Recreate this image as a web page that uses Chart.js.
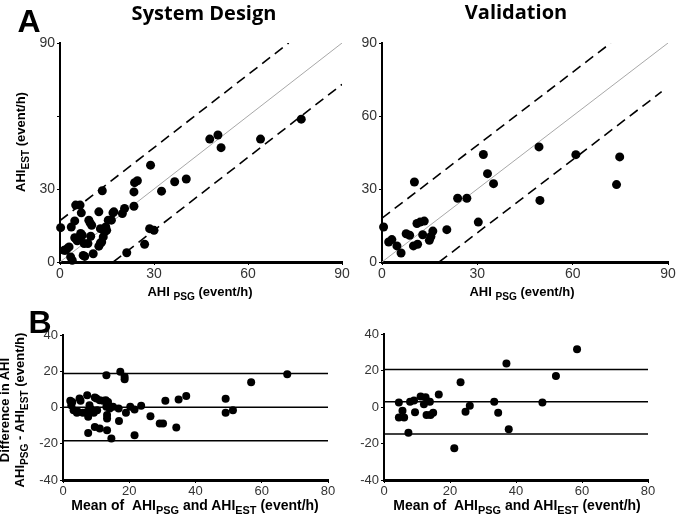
<!DOCTYPE html>
<html>
<head>
<meta charset="utf-8">
<script src="https://cdn.jsdelivr.net/npm/chart.js@4"></script>
<style>
  body { margin:0; background:#fff; width:676px; height:519px; position:relative; overflow:hidden; }
  canvas { position:absolute; }
  .lbl { position:absolute; white-space:nowrap; transform:translate(-50%,-50%); font-family:"Liberation Sans", Arial, sans-serif; font-weight:bold; font-size:13px; color:#000; line-height:1.15; text-align:center; }
  .rot { transform:translate(-50%,-50%) rotate(-90deg); }
  .title { font-family:"Open Sans", sans-serif; font-size:20px; }
  .big { font-family:"Liberation Sans", Arial, sans-serif; font-size:32px; }
  sub { font-size:0.78em; vertical-align:-0.4em; line-height:0; }
</style>
</head>
<body>
<canvas id="tl"></canvas>
<canvas id="tr"></canvas>
<canvas id="bl"></canvas>
<canvas id="br"></canvas>

<div class="lbl big" style="left:29px;top:21px">A</div>
<div class="lbl big" style="left:40px;top:322px">B</div>
<div class="lbl title" style="left:204px;top:12px">System Design</div>
<div class="lbl title" style="left:516px;top:11px">Validation</div>
<div class="lbl rot" style="left:21px;top:142px">AHI<sub>EST</sub> (event/h)</div>
<div class="lbl" style="left:200px;top:292px">AHI <sub>PSG</sub> (event/h)</div>
<div class="lbl" style="left:522px;top:292px">AHI <sub>PSG</sub> (event/h)</div>
<div class="lbl rot" style="left:13px;top:410px">Difference in AHI<br>AHI<sub>PSG</sub> - AHI<sub>EST</sub> (event/h)</div>
<div class="lbl" style="left:195px;top:505px;font-size:14px">Mean of &nbsp;AHI<sub>PSG</sub> and AHI<sub>EST</sub> (event/h)</div>
<div class="lbl" style="left:517px;top:505px;font-size:14px">Mean of &nbsp;AHI<sub>PSG</sub> and AHI<sub>EST</sub> (event/h)</div>

<script>
// System Design: AHI from PSG vs estimated AHI
const sdPsg = [0.2, 1.8, 2.3, 2.9, 3.4, 3.9, 3.6, 4.7, 5.0, 6.4, 6.8, 4.7, 5.5, 6.1, 6.6, 7.1, 7.4, 7.9, 9.2, 9.6,
               8.9, 9.8, 10.6, 12.4, 12.4, 12.9, 12.9, 13.5, 13.8, 14.3, 14.9, 16.4, 17.2, 19.9, 20.6, 21.3, 23.6, 23.6, 23.8, 24.7,
               27.0, 28.9, 28.6, 30.0, 32.4, 36.6, 40.3, 47.8, 50.4, 51.4, 64.0, 77.0, 1.3, 5.0, 7.7, 10.1, 13.3, 14.6, 15.4, 16.9];
const sdEst = [14.1, 4.8, 5.5, 6.2, 2.1, 0.7, 14.4, 16.9, 23.4, 23.4, 20.2, 10.0, 8.7, 9.6, 11.7, 11.0, 2.7, 2.3, 17.2, 16.1,
               7.6, 10.6, 3.4, 20.6, 6.5, 7.8, 13.7, 29.3, 10.3, 12.4, 13.0, 17.2, 20.6, 19.9, 22.0, 3.8, 28.8, 22.9, 32.6, 33.4,
               7.3, 39.8, 13.7, 13.0, 29.1, 33.0, 34.1, 50.5, 52.2, 47.0, 50.5, 58.7, 4.8, 9.6, 7.6, 15.1, 8.2, 14.4, 17.2, 20.2];

// Validation: AHI from PSG vs estimated AHI
const valPsg = [0.5, 2.1, 3.1, 4.7, 6.0, 7.6, 8.7, 10.2, 9.9, 11.2, 11.0, 12.0, 13.3, 12.8, 14.9, 15.4, 16.0, 20.4, 23.8, 26.7,
                30.3, 31.9, 33.2, 35.1, 49.4, 49.7, 61.0, 73.8, 74.8];
const valEst = [14.4, 8.2, 9.2, 6.6, 3.7, 11.6, 11.0, 32.9, 6.6, 7.3, 15.8, 16.4, 16.8, 11.2, 8.9, 10.5, 12.7, 13.3, 26.2, 26.2,
                16.4, 44.2, 36.3, 32.2, 47.3, 25.3, 44.1, 31.8, 43.2];

// identity and limit lines (x, y pairs of end points)
const sdUpper = [[0, 17], [73, 90]];
const sdLower = [[17, 0], [90, 73]];
const valUpper = [[0, 18], [72, 90]];
const valLower = [[18, 0], [88, 70]];
const identity = [[0, 0], [90, 90]];

// Bland-Altman, System Design
const sdMean = [2.2, 2.8, 2.5, 3.2, 4.2, 5.0, 5.3, 4.5, 6.0, 7.3, 7.6, 7.3, 8.0, 8.6, 9.3, 9.6, 10.1, 10.3, 8.0, 11.1,
                12.1, 12.9, 13.6, 13.1, 14.1, 15.1, 7.6, 9.6, 11.1, 13.3, 13.3, 13.3, 14.6, 13.1, 17.3, 18.6, 18.6, 16.8, 16.9, 19.0,
                20.3, 21.6, 21.6, 23.6, 26.4, 29.2, 30.2, 30.9, 34.2, 34.9, 37.2, 49.1, 49.1, 51.3, 56.8, 67.7];
const sdDiff = [3.7, 3.1, 1.3, -1.5, -2.9, 5.0, 3.7, -2.4, -2.9, 6.8, -5.1, -2.4, 1.3, -1.1, -2.9, 5.5, 5.0, -1.5, -2.4, 4.0,
                3.7, 4.0, 3.1, 0.4, -0.6, 0.4, -14.0, -10.7, -11.6, -12.5, -4.2, -6.1, -17.1, 17.8, 19.7, 15.6, 16.9, -0.6, -7.4, -2.9,
                0.4, -1.1, -15.3, 0.9, -4.8, -8.8, -8.8, 3.7, -11.0, 4.4, 6.4, 4.8, -2.9, -1.5, 14.0, 18.4];
const sdLimits = [18.7, 0.2, -18.3];

// Bland-Altman, Validation
const valMean = [4.5, 4.5, 6.1, 5.6, 7.9, 9.1, 9.4, 11.1, 12.6, 12.1, 13.9, 12.9, 14.1, 14.9, 16.6, 7.4, 21.3, 23.2, 24.7, 26.0,
                 33.4, 34.6, 37.1, 37.8, 48.0, 52.1, 58.5];
const valDiff = [2.4, -5.8, -5.8, -2.0, 2.9, 3.5, -2.9, 5.7, 5.3, 1.5, 2.9, -4.4, -4.4, -3.1, 6.9, -14.1, -22.6, 13.5, -2.6, 0.7,
                 2.9, -3.1, 23.9, -12.2, 2.4, 17.0, 31.6];
const valLimits = [20.6, 2.9, -14.8];

const pad = { l: 45, t: 12, r: 16, b: 24 };

function pts(xs, ys) { return xs.map((x, i) => ({ x: x, y: ys[i] })); }
function seg(p) { return p.map(q => ({ x: q[0], y: q[1] })); }

function lineSet(data, color, width, dash) {
  return { data: data, showLine: true, borderColor: color, borderWidth: width, borderDash: dash,
           pointRadius: 0, fill: false, order: 2 };
}

function makeChart(id, area, datasets, xr, yr, fontSize, hideY) {
  const c = document.getElementById(id);
  const w = area[2] - area[0] + pad.l + pad.r;
  const h = area[3] - area[1] + pad.t + pad.b;
  c.width = w; c.height = h;
  c.style.left = (area[0] - pad.l) + 'px';
  c.style.top = (area[1] - pad.t) + 'px';
  const font = { family: '"Liberation Sans", Arial, sans-serif', size: fontSize };
  return new Chart(c, {
    type: 'scatter',
    data: { datasets: datasets },
    options: {
      responsive: false,
      animation: false,
      layout: { autoPadding: false, padding: { left: 0, top: pad.t, right: pad.r, bottom: 0 } },
      plugins: { legend: { display: false }, tooltip: { enabled: false } },
      scales: {
        x: {
          min: xr[0], max: xr[1],
          ticks: { stepSize: xr[2], color: '#333', font: font, padding: 1, maxRotation: 0 },
          grid: { drawOnChartArea: false, drawTicks: true, tickLength: 3, color: '#000' },
          border: { color: '#000', width: 3 },
          afterFit: s => { s.height = pad.b; s.paddingLeft = 0; s.paddingRight = 0; }
        },
        y: {
          min: yr[0], max: yr[1],
          ticks: { stepSize: yr[2], color: '#333', font: font, padding: 2,
                   callback: v => (hideY && hideY.includes(v)) ? '' : v },
          grid: { drawOnChartArea: false, drawTicks: true, tickLength: 3, color: '#000' },
          border: { color: '#000', width: 2 },
          afterFit: s => { s.width = pad.l; s.paddingTop = 0; s.paddingBottom = 0; }
        }
      }
    }
  });
}

function dots(data, r) {
  return { data: data, pointRadius: r, backgroundColor: '#000', borderColor: '#000', borderWidth: 0,
           clip: false, order: 1 };
}

makeChart('tl', [60, 43, 342, 262], [
  lineSet(seg(identity), '#a8a8a8', 1, []),
  lineSet(seg(sdUpper), '#000', 1.6, [10, 6]),
  lineSet(seg(sdLower), '#000', 1.6, [10, 6]),
  dots(pts(sdPsg, sdEst), 4.5)
], [0, 90, 30], [0, 90, 30], 14, [60]);

makeChart('tr', [382, 43, 668, 262], [
  lineSet(seg(identity), '#a8a8a8', 1, []),
  lineSet(seg(valUpper), '#000', 1.6, [10, 6]),
  lineSet(seg(valLower), '#000', 1.6, [10, 6]),
  dots(pts(valPsg, valEst), 4.5)
], [0, 90, 30], [0, 90, 30], 14, null);

function limitSets(lims) {
  return lims.map(v => lineSet([{ x: 0, y: v }, { x: 80, y: v }], '#000', 1.5, []));
}

makeChart('bl', [63, 335, 328, 480],
  limitSets(sdLimits).concat([dots(pts(sdMean, sdDiff), 4)]),
  [0, 80, 20], [-40, 40, 20], 13, null);

makeChart('br', [384, 334, 648, 480],
  limitSets(valLimits).concat([dots(pts(valMean, valDiff), 4)]),
  [0, 80, 20], [-40, 40, 20], 13, null);
</script>
</body>
</html>
